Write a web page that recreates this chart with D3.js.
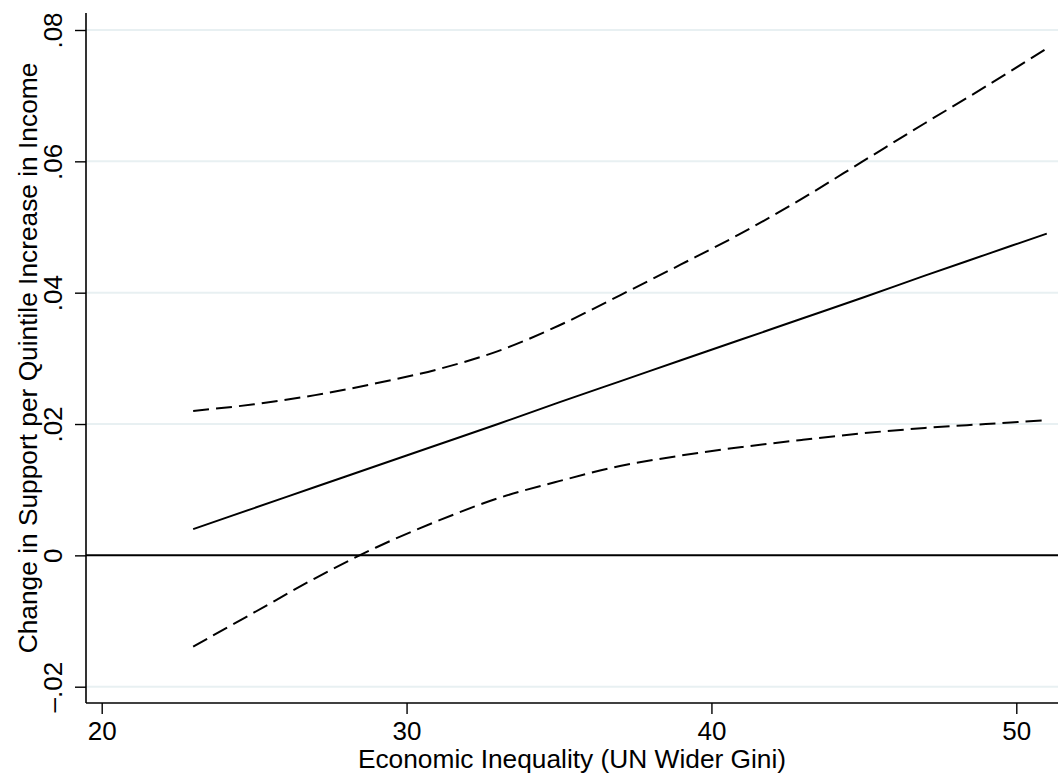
<!DOCTYPE html>
<html>
<head>
<meta charset="utf-8">
<script src="https://cdn.jsdelivr.net/npm/d3@7"></script>
<style>
  html, body { margin: 0; padding: 0; background: #fff; }
  svg { display: block; }
  text { font-family: "Liberation Sans", Arial, Helvetica, sans-serif; fill: #000; }
</style>
</head>
<body>
<svg id="chart" width="1058" height="778"></svg>
<script>
// Gini values at which the marginal effect was evaluated
const gini = [23, 25, 27, 29, 31, 33, 35, 37, 39, 41, 43, 45, 47, 49, 51];
// Marginal effect of a quintile increase in income (point estimate)
const effect = [0.0040, 0.0072, 0.0104, 0.0136, 0.0168, 0.0200, 0.0233, 0.0265, 0.0297, 0.0329, 0.0361, 0.0393, 0.0426, 0.0458, 0.0490];
// Upper and lower bounds of the 95% confidence interval
const upper = [0.0220, 0.0230, 0.0244, 0.0262, 0.0283, 0.0311, 0.0350, 0.0396, 0.0443, 0.0491, 0.0544, 0.0601, 0.0658, 0.0714, 0.0772];
const lower = [-0.0139, -0.0087, -0.0035, 0.0012, 0.0052, 0.0087, 0.0113, 0.0136, 0.0152, 0.0165, 0.0176, 0.0186, 0.0194, 0.0200, 0.0206];

const xTicks = [20, 30, 40, 50];
const yTicks = [-0.02, 0, 0.02, 0.04, 0.06, 0.08];
const yTickLabels = ["\u2013.02", "0", ".02", ".04", ".06", ".08"];

const xTitle = "Economic Inequality (UN Wider Gini)";
const yTitle = "Change in Support per Quintile Increase in Income";

const svg = d3.select("#chart");
const tickFont = 26;
const titleFont = 26.3;

// plot region
const plot = { left: 86, right: 1058, top: 13, bottom: 703 };

const x = d3.scaleLinear().domain([20, 50]).range([101.7, 1016.3]);
const y = d3.scaleLinear().domain([-0.02, 0.08]).range([686.7, 30]);

// horizontal grid lines
svg.append("g")
  .selectAll("line")
  .data(yTicks.filter(d => d !== 0))
  .join("line")
  .attr("x1", plot.left)
  .attr("x2", plot.right)
  .attr("y1", d => y(d))
  .attr("y2", d => y(d))
  .attr("stroke", "#e8f0f2")
  .attr("stroke-width", 2);

// reference line at zero
svg.append("line")
  .attr("x1", plot.left)
  .attr("x2", plot.right)
  .attr("y1", y(0))
  .attr("y2", y(0))
  .attr("stroke", "#000")
  .attr("stroke-width", 2);

// y axis
const yAxis = svg.append("g")
  .attr("transform", `translate(${plot.left},0)`)
  .call(d3.axisLeft(y).tickValues(yTicks).tickSize(11).tickFormat((d, i) => yTickLabels[i]));
yAxis.select(".domain")
  .attr("d", `M0,${plot.top}V${plot.bottom}`)
  .attr("stroke", "#000")
  .attr("stroke-width", 1.6);
yAxis.selectAll(".tick line").attr("stroke", "#000").attr("stroke-width", 1.4);
yAxis.selectAll(".tick text")
  .attr("x", null).attr("dy", null)
  .attr("font-size", tickFont)
  .attr("text-anchor", "middle")
  .attr("transform", "translate(-24,0) rotate(-90)")
  .attr("y", 0);

// x axis
const xAxis = svg.append("g")
  .attr("transform", `translate(0,${plot.bottom})`)
  .call(d3.axisBottom(x).tickValues(xTicks).tickSize(11).tickFormat(d3.format("d")));
xAxis.select(".domain")
  .attr("d", `M${plot.left},0H${plot.right}`)
  .attr("stroke", "#000")
  .attr("stroke-width", 1.6);
xAxis.selectAll(".tick line").attr("stroke", "#000").attr("stroke-width", 1.4);
xAxis.selectAll(".tick text")
  .attr("dy", null)
  .attr("y", 37)
  .attr("font-size", tickFont);

// series
const line = (vals) => d3.line()
  .x((d, i) => x(gini[i]))
  .y(d => y(d))
  .curve(d3.curveCatmullRom)(vals);

svg.append("path")
  .attr("d", line(upper))
  .attr("fill", "none")
  .attr("stroke", "#000")
  .attr("stroke-width", 2)
  .attr("stroke-dasharray", "16 7");

svg.append("path")
  .attr("d", line(lower))
  .attr("fill", "none")
  .attr("stroke", "#000")
  .attr("stroke-width", 2)
  .attr("stroke-dasharray", "16 7");

svg.append("path")
  .attr("d", line(effect))
  .attr("fill", "none")
  .attr("stroke", "#000")
  .attr("stroke-width", 2);

// axis titles
svg.append("text")
  .attr("x", (plot.left + plot.right) / 2)
  .attr("y", 768)
  .attr("text-anchor", "middle")
  .attr("font-size", titleFont)
  .text(xTitle);

svg.append("text")
  .attr("transform", `translate(36.5,358) rotate(-90)`)
  .attr("text-anchor", "middle")
  .attr("font-size", titleFont)
  .text(yTitle);
</script>
</body>
</html>
